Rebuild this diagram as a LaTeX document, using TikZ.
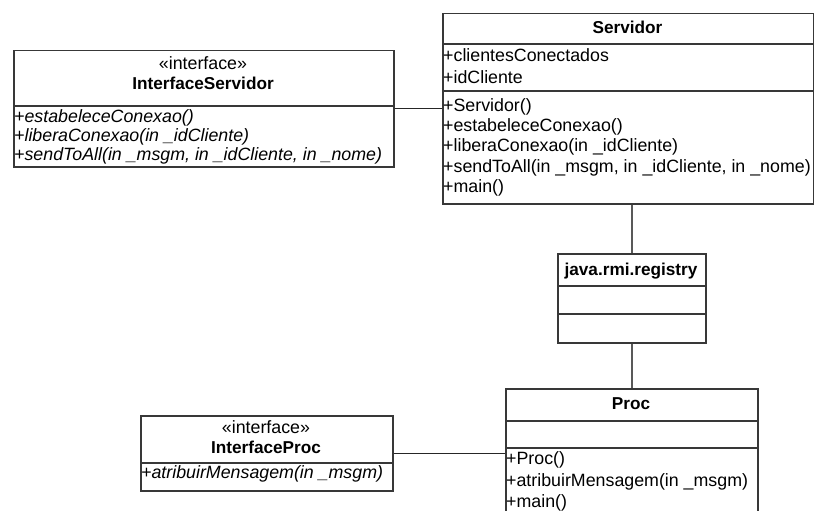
\documentclass[tikz,border=0pt]{standalone}
\usepackage{fontspec}
\setmainfont{Liberation Sans}
\begin{document}
\begin{tikzpicture}[x=1pt,y=-1pt,
  umlbox/.style={draw=black!78, line width=1.5pt, fill=white, anchor=north west, inner sep=0pt, minimum width=#1},
  sepline/.style={draw=black!78, line width=1.5pt},
  conn/.style={draw=black!85, line width=1.2pt},
  vconn/.style={draw=black!65, line width=2pt},
  txt/.style={anchor=west, inner sep=0pt, font=\fontsize{17.8}{20}\selectfont, text height=12.5pt, text depth=3.5pt},
  ctxt/.style={anchor=center, inner sep=0pt, font=\fontsize{17.8}{20}\selectfont, text height=12.5pt, text depth=3.5pt},
  btxt/.style={ctxt, font=\fontsize{17.2}{20}\selectfont\bfseries},
  itxt/.style={txt, font=\fontsize{17.8}{20}\selectfont\itshape}]
\useasboundingbox (0,0) rectangle (814,511);
\clip (0,0) rectangle (814,511);
% boxes
\node[umlbox=380pt, minimum height=116pt] (is) at (13,50) {};
\node[umlbox=371pt, minimum height=190pt] (srv) at (442,13) {};
\node[umlbox=148pt, minimum height=89pt] (reg) at (557,253) {};
\node[umlbox=252pt, minimum height=150pt] (proc) at (505,388) {};
\node[umlbox=252pt, minimum height=75pt] (ip) at (140,415) {};
% separators
\draw[sepline] (is.west |- 0,106) -- (is.east |- 0,106);
\draw[sepline] (srv.west |- 0,44) -- (srv.east |- 0,44);
\draw[sepline] (srv.west |- 0,91) -- (srv.east |- 0,91);
\draw[sepline] (reg.west |- 0,286) -- (reg.east |- 0,286);
\draw[sepline] (reg.west |- 0,314) -- (reg.east |- 0,314);
\draw[sepline] (proc.west |- 0,421) -- (proc.east |- 0,421);
\draw[sepline] (proc.west |- 0,448) -- (proc.east |- 0,448);
\draw[sepline] (ip.west |- 0,463) -- (ip.east |- 0,463);
% connectors
\draw[conn] (is.east) -- (srv.west);
\draw[vconn] (reg.north |- srv.south) -- (reg.north);
\draw[vconn] (reg.south) -- (proc.north);
\draw[conn] (ip.east) -- (ip.east -| proc.west);
% InterfaceServidor texts
\node[ctxt] (is-st) at (203,65) {«interface»};
\node[btxt] (is-nm) at (203,85) {InterfaceServidor};
\node[itxt] (is-m1) at (14,118) {+estabeleceConexao()};
\node[itxt] (is-m2) at (14,137) {+liberaConexao(in \_idCliente)};
\node[itxt] (is-m3) at (14,156) {+sendToAll(in \_msgm, in \_idCliente, in \_nome)};
% Servidor texts
\node[btxt] (srv-nm) at (627.5,29) {Servidor};
\node[txt] (srv-a1) at (443,57) {+clientesConectados};
\node[txt] (srv-a2) at (443,79) {+idCliente};
\node[txt] (srv-m1) at (443,107) {+Servidor()};
\node[txt] (srv-m2) at (443,127) {+estabeleceConexao()};
\node[txt] (srv-m3) at (443,147) {+liberaConexao(in \_idCliente)};
\node[txt] (srv-m4) at (443,168) {+sendToAll(in \_msgm, in \_idCliente, in \_nome)};
\node[txt] (srv-m5) at (443,188) {+main()};
% registry
\node[btxt] (reg-nm) at (631,271) {java.rmi.registry};
% Proc
\node[btxt] (proc-nm) at (631,405) {Proc};
\node[txt] (proc-m1) at (506,460) {+Proc()};
\node[txt] (proc-m2) at (506,482) {+atribuirMensagem(in \_msgm)};
\node[txt] (proc-m3) at (506,503) {+main()};
% InterfaceProc
\node[ctxt] (ip-st) at (266,429) {«interface»};
\node[btxt] (ip-nm) at (266,449) {InterfaceProc};
\node[itxt] (ip-m1) at (141,474) {+atribuirMensagem(in \_msgm)};
\end{tikzpicture}
\end{document}
